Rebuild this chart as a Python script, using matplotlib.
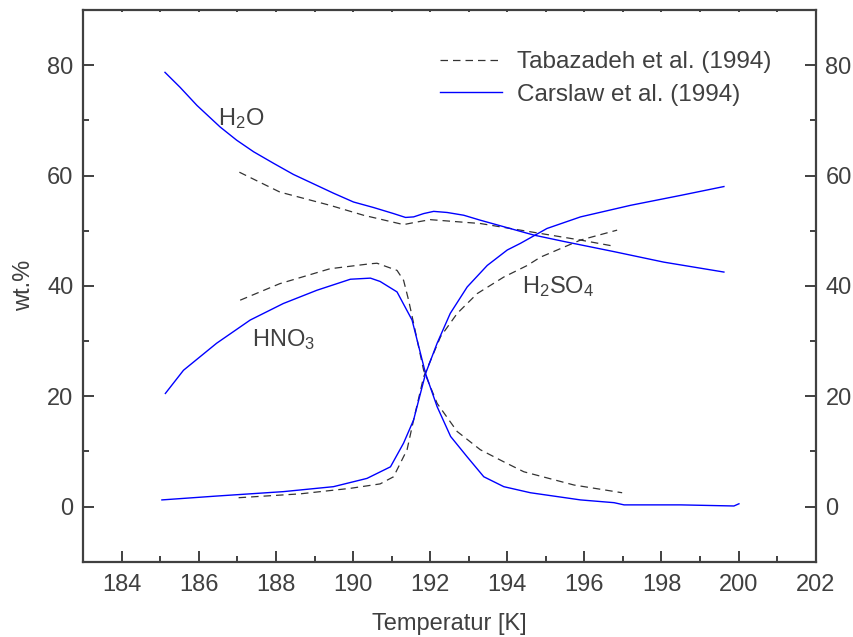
import matplotlib
matplotlib.use("Agg")
import matplotlib.pyplot as plt
from matplotlib.ticker import MultipleLocator

plt.rcParams['font.family'] = ['Liberation Sans', 'DejaVu Sans']
plt.rcParams['mathtext.fontset'] = 'custom'
plt.rcParams['mathtext.rm'] = 'Liberation Sans'
plt.rcParams['mathtext.it'] = 'Liberation Sans'

# ---- data ----
carslaw_h2o_T = [185.12, 185.51, 185.95, 186.55, 186.98, 187.42, 187.94, 188.45, 188.97, 189.49,
                 190.01, 190.53, 191.05, 191.36, 191.57, 191.83, 192.09, 192.44, 192.87, 193.3,
                 194.69, 195.5, 196.77, 198.06, 199.62]
carslaw_h2o = [78.7, 76.0, 72.7, 68.8, 66.4, 64.3, 62.2, 60.2, 58.5, 56.8,
               55.2, 54.2, 53.1, 52.4, 52.5, 53.1, 53.5, 53.3, 52.8, 51.9,
               49.2, 48.0, 46.2, 44.3, 42.5]

tab_h2o_T = [187.05, 188.1, 189.4, 190.27, 191.31, 191.6, 192.0, 193.3, 194.6, 195.9, 196.68]
tab_h2o = [60.6, 57.0, 54.6, 52.8, 51.1, 51.5, 52.0, 51.3, 49.8, 48.3, 47.3]

carslaw_hno3_T = [185.13, 185.6, 186.46, 187.33, 188.19, 189.06, 189.93, 190.45, 190.7, 191.14,
                  191.53, 191.88, 192.18, 192.53, 192.96, 193.39, 193.91, 194.6, 195.9, 196.77,
                  197.03, 198.5, 199.88, 200.01]
carslaw_hno3 = [20.5, 24.7, 29.6, 33.8, 36.8, 39.2, 41.2, 41.4, 40.8, 38.9,
                33.8, 24.1, 18.1, 12.7, 9.0, 5.4, 3.6, 2.5, 1.2, 0.7,
                0.3, 0.3, 0.1, 0.5]

tab_hno3_T = [187.07, 188.1, 189.4, 190.44, 190.62, 191.14, 191.31, 191.44, 191.57, 191.83,
              192.18, 192.7, 193.3, 193.91, 194.43, 195.73, 196.98]
tab_hno3 = [37.4, 40.4, 43.1, 44.0, 44.1, 42.8, 41.0, 37.4, 33.2, 24.7,
            18.7, 13.6, 10.3, 8.1, 6.3, 3.9, 2.5]

carslaw_h2so4_T = [185.04, 186.46, 188.19, 189.49, 190.36, 190.97, 191.31, 191.57, 191.88, 192.18,
                   192.52, 192.96, 193.48, 194.0, 194.34, 195.03, 195.9, 197.2, 198.5, 199.62]
carslaw_h2so4 = [1.2, 1.9, 2.7, 3.6, 5.1, 7.2, 11.5, 15.7, 24.1, 29.6,
                 35.0, 39.8, 43.7, 46.5, 47.7, 50.4, 52.5, 54.6, 56.4, 58.0]

tab_h2so4_T = [187.03, 188.63, 189.93, 190.7, 191.05, 191.4, 191.57, 191.83, 192.27, 192.7,
               193.22, 193.91, 194.52, 194.86, 195.9, 196.85]
tab_h2so4 = [1.6, 2.3, 3.3, 4.1, 5.4, 10.3, 15.7, 23.5, 30.8, 35.0,
             38.6, 41.6, 43.7, 45.2, 48.3, 50.1]

x_ticks = [184, 186, 188, 190, 192, 194, 196, 198, 200, 202]
y_ticks = [0, 20, 40, 60, 80]
series_labels = ['Tabazadeh et al. (1994)', 'Carslaw et al. (1994)']

# ---- style ----
TXT = '#404040'
BLUE = '#0000ff'
DASH = '#333333'

fig = plt.figure(figsize=(8.54, 6.37), dpi=100)
ax = fig.add_axes([0.0975, 0.1182, 0.8576, 0.8661])

dash_kw = dict(color=DASH, lw=0.9, linestyle=(0, (6, 4)))
sol_kw = dict(color=BLUE, lw=1.0)

ax.plot(tab_h2o_T, tab_h2o, **dash_kw, label=series_labels[0])
ax.plot(carslaw_h2o_T, carslaw_h2o, **sol_kw, label=series_labels[1])
ax.plot(tab_hno3_T, tab_hno3, **dash_kw)
ax.plot(carslaw_hno3_T, carslaw_hno3, **sol_kw)
ax.plot(tab_h2so4_T, tab_h2so4, **dash_kw)
ax.plot(carslaw_h2so4_T, carslaw_h2so4, **sol_kw)

ax.set_xlim(183, 202)
ax.set_ylim(-10, 90)
ax.set_xticks(x_ticks)
ax.set_yticks(y_ticks)
ax.xaxis.set_minor_locator(MultipleLocator(1))
ax.yaxis.set_minor_locator(MultipleLocator(10))

for s in ax.spines.values():
    s.set_color(TXT)
    s.set_linewidth(1.6)

ax.tick_params(axis='both', which='both', direction='in', colors=TXT, labelcolor=TXT,
               labelsize=17, width=1.4)
ax.tick_params(axis='x', which='major', length=8, pad=9, top=True)
ax.tick_params(axis='x', which='minor', length=4.5, top=True)
ax.tick_params(axis='y', which='major', length=8, pad=7, right=True, labelright=True)
ax.tick_params(axis='y', which='minor', length=4.5, right=True)
# tiny top ticks
for t in ax.xaxis.get_major_ticks() + ax.xaxis.get_minor_ticks():
    t.tick2line.set_markersize(1.5)

ax.set_xlabel('Temperatur [K]', fontsize=17, color=TXT, labelpad=12)
ax.set_ylabel('wt.%', fontsize=17, color=TXT, labelpad=9)

ax.text(186.5, 70.4, r'H$_2$O', fontsize=17, color=TXT, va='center', ha='left')
ax.text(187.37, 30.2, r'HNO$_3$', fontsize=17, color=TXT, va='center', ha='left')
ax.text(194.39, 39.8, r'H$_2$SO$_4$', fontsize=17, color=TXT, va='center', ha='left')

leg = ax.legend(loc='upper left', bbox_to_anchor=(440 / 854, 1 - 51 / 637),
                bbox_transform=fig.transFigure, frameon=False, fontsize=17.5,
                handlelength=2.55, handletextpad=0.62, labelspacing=0.44,
                borderpad=0, borderaxespad=0)
for t in leg.get_texts():
    t.set_color(TXT)

fig.savefig('out.png', dpi=100)
